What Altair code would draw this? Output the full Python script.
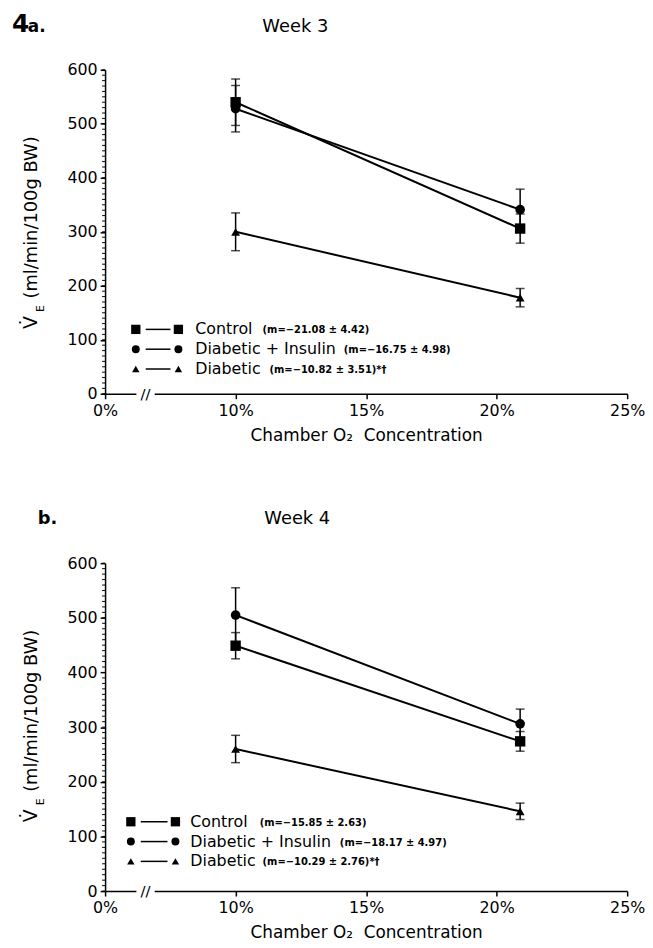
import altair as alt
import pandas as pd

# ---------------- data ----------------
groups = ["Control", "Diabetic + Insulin", "Diabetic"]
o2_levels = [10.0, 20.9]

w3_control = [540, 306]
w3_control_se = [43, 27]
w3_insulin = [528, 341]
w3_insulin_se = [43, 38]
w3_diabetic = [300, 178]
w3_diabetic_se = [35, 17]

w4_control = [449, 274]
w4_control_se = [24, 18]
w4_insulin = [505, 306]
w4_insulin_se = [50, 27]
w4_diabetic = [260, 146]
w4_diabetic_se = [25, 15]

w3_stats = ["(m=\u221221.08 \u00b1 4.42)", "(m=\u221216.75 \u00b1 4.98)", "(m=\u221210.82 \u00b1 3.51)*\u2020"]
w4_stats = ["(m=\u221215.85 \u00b1 2.63)", "(m=\u221218.17 \u00b1 4.97)", "(m=\u221210.29 \u00b1 2.76)*\u2020"]

x_tick_values = [5, 10, 15, 20, 25]
y_tick_values = [0, 100, 200, 300, 400, 500, 600]
y_minor_values = list(range(0, 601, 10))

# ---------------- style ----------------
FONT = "DejaVu Sans"
shapes = ["square", "circle", "triangle-up"]
sizes = [110, 80, 70]
W, H1, H2 = 527, 327, 331

xscale = alt.Scale(domain=[5, 25], nice=False, zero=False)
yscale = alt.Scale(domain=[0, 600], nice=False)
xaxis = alt.Axis(values=x_tick_values,
                 labelExpr="datum.value == 5 ? '0%' : datum.value + '%'",
                 title="Chamber O\u2082 \u00a0Concentration", grid=False, labelFlush=False,
                 tickSize=5, labelPadding=4, titlePadding=9)
yaxis = alt.Axis(values=y_tick_values, title=None, grid=False,
                 tickSize=5, labelPadding=3)


def X(f):
    return alt.X(f, scale=xscale, axis=xaxis)


def Y(f):
    return alt.Y(f, scale=yscale, axis=yaxis)


def panel(means, ses, stats, week_title, panel_parts, lay, height):
    rows = []
    for g in groups:
        for j, xo in enumerate(o2_levels):
            m, s = means[g][j], ses[g][j]
            rows.append(dict(group=g, o2=xo, mean=m, lo=m - s, hi=m + s))
    df = pd.DataFrame(rows)
    base = alt.Chart(df)

    lines = base.mark_line(color="black", strokeWidth=2).encode(
        x=X("o2:Q"), y=Y("mean:Q"), detail="group:N")
    rules = base.mark_rule(color="black", strokeWidth=1.5).encode(
        x=X("o2:Q"), y=Y("lo:Q"), y2="hi:Q")
    cap_hi = base.mark_tick(color="black", thickness=1.5, size=9,
                            orient="horizontal").encode(x=X("o2:Q"), y=Y("hi:Q"))
    cap_lo = base.mark_tick(color="black", thickness=1.5, size=9,
                            orient="horizontal").encode(x=X("o2:Q"), y=Y("lo:Q"))
    points = base.mark_point(filled=True, opacity=1, color="black").encode(
        x=X("o2:Q"), y=Y("mean:Q"),
        shape=alt.Shape("group:N", scale=alt.Scale(domain=groups, range=shapes), legend=None),
        size=alt.Size("group:N", scale=alt.Scale(domain=groups, range=sizes), legend=None))

    minor = alt.Chart(pd.DataFrame({"v": y_minor_values})).mark_rule(
        color="black", strokeWidth=1).encode(y=Y("v:Q"), x=alt.value(-3), x2=alt.value(0))

    brk = pd.DataFrame({"a": [6.2], "b": [6.9], "c": [6.55], "z": [0]})
    gap = alt.Chart(brk).mark_rule(color="white", strokeWidth=5).encode(
        x=X("a:Q"), x2="b:Q", y=Y("z:Q"))
    slash = alt.Chart(brk).mark_text(text="//", font=FONT, fontSize=15,
                                     color="black").encode(
        x=X("c:Q"), y=Y("z:Q"))

    one = pd.DataFrame({"k": [0]})
    layers = [minor, lines, rules, cap_hi, cap_lo, points, gap, slash]

    # legend
    for i, g in enumerate(groups):
        yy = lay["leg_y"] + i * 20
        for mx in (lay["m1"], lay["m2"]):
            layers.append(alt.Chart(one).mark_point(
                shape=shapes[i], filled=True, opacity=1, color="black",
                size=sizes[i] * 0.8).encode(x=alt.value(mx), y=alt.value(yy)))
        layers.append(alt.Chart(one).mark_rule(color="black", strokeWidth=1.5).encode(
            x=alt.value(lay["m1"] + 10), x2=alt.value(lay["m2"] - 8), y=alt.value(yy)))
        layers.append(alt.Chart(one).mark_text(
            text=g, font=FONT, fontSize=16, align="left", baseline="middle",
            color="black").encode(x=alt.value(lay["tx"]), y=alt.value(yy)))
        layers.append(alt.Chart(one).mark_text(
            text=stats[i], font=FONT, fontSize=10, fontWeight="bold", align="left",
            baseline="middle", color="black").encode(
            x=alt.value(lay["sx"][i]), y=alt.value(yy + 1)))

    # panel label and week title
    for txt, px, fs in panel_parts:
        layers.append(alt.Chart(one).mark_text(
            text=txt, font=FONT, fontSize=fs, fontWeight="bold",
            align="left", baseline="alphabetic", color="black").encode(
            x=alt.value(px), y=alt.value(lay["title_y"])))
    layers.append(alt.Chart(one).mark_text(
        text=week_title, font=FONT, fontSize=18, align="center",
        baseline="alphabetic", color="black").encode(
        x=alt.value(lay["wk_x"]), y=alt.value(lay["title_y"])))

    # y-axis title: V-dot with subscript E, then units
    layers.append(alt.Chart(one).mark_text(
        text="(ml/min/100g BW)", font=FONT, fontSize=18, angle=270, align="center",
        baseline="middle", color="black").encode(
        x=alt.value(-74), y=alt.value(lay["yt_y"])))
    layers.append(alt.Chart(one).mark_text(
        text="V\u0307", font=FONT, fontSize=19, angle=270, align="center",
        baseline="middle", color="black").encode(
        x=alt.value(-75), y=alt.value(lay["yt_y"] + 106)))
    layers.append(alt.Chart(one).mark_text(
        text="E", font=FONT, fontSize=11, angle=270, align="center",
        baseline="middle", color="black").encode(
        x=alt.value(-65), y=alt.value(lay["yt_y"] + 92)))

    return alt.layer(*layers).properties(width=W, height=height)


m3 = {"Control": w3_control, "Diabetic + Insulin": w3_insulin, "Diabetic": w3_diabetic}
s3 = {"Control": w3_control_se, "Diabetic + Insulin": w3_insulin_se, "Diabetic": w3_diabetic_se}
m4 = {"Control": w4_control, "Diabetic + Insulin": w4_insulin, "Diabetic": w4_diabetic}
s4 = {"Control": w4_control_se, "Diabetic + Insulin": w4_insulin_se, "Diabetic": w4_diabetic_se}

lay3 = dict(leg_y=262, m1=31, m2=74, tx=91, sx=[159, 241, 166],
            wk_x=192, title_y=-38, yt_y=149)
lay4 = dict(leg_y=261, m1=26, m2=71, tx=86, sx=[156, 237, 159],
            wk_x=194, title_y=-40, yt_y=149)

top = panel(m3, s3, w3_stats, "Week 3", [("4", -94, 25), ("a.", -78, 17)], lay3, H1)
bottom = panel(m4, s4, w4_stats, "Week 4", [("b.", -68, 18)], lay4, H2)

chart = alt.vconcat(top, bottom, spacing=171, bounds="flush").properties(
    padding={"left": 4, "top": 0, "right": 0, "bottom": 0}
).configure_view(stroke=None).configure_axis(
    domainColor="black", domainWidth=1.5, tickColor="black", tickWidth=1.5,
    labelFont=FONT, labelFontSize=16, labelColor="black",
    titleFont=FONT, titleFontSize=17, titleFontWeight="normal", titleColor="black"
)

chart.save("out.html", embed_options={"renderer": "svg", "actions": False})
